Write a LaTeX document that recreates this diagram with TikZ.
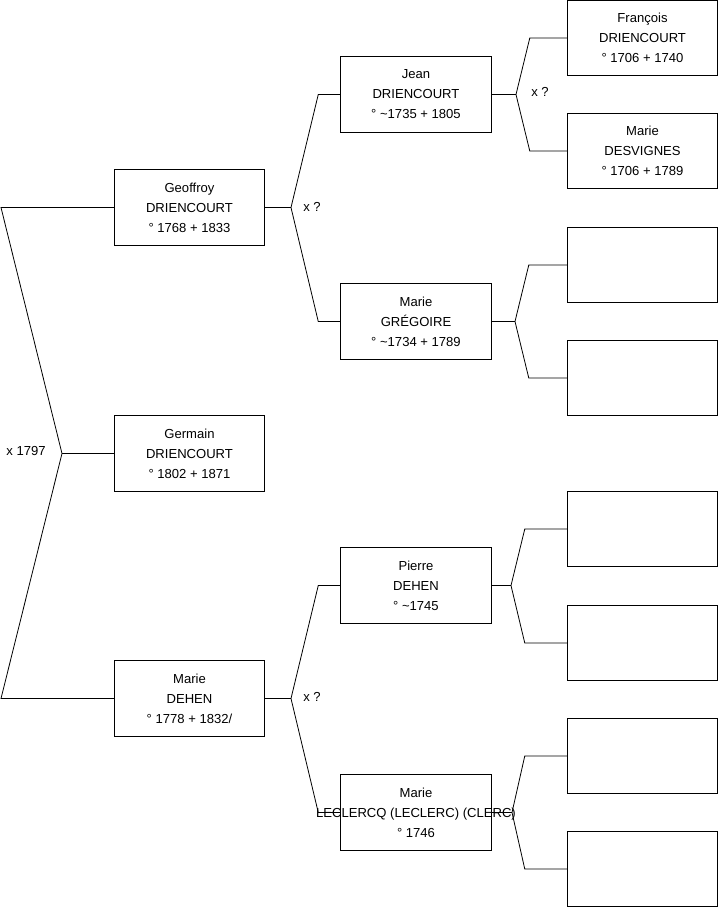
\documentclass[tikz,border=0pt]{standalone}
\usepackage{fontspec}
\setmainfont{Liberation Sans}
\usepackage{tikz}

\begin{document}
\begin{tikzpicture}[
    x=0.75pt, y=-0.75pt,
    font=\fontsize{9.8}{15}\selectfont,
    line width=0.6pt,
    individu/.style={
        draw,
        minimum width=113pt,
        minimum height=56.5pt,
        inner sep=0pt,
        align=center
    },
    union/.style={inner sep=1pt}
]
    \useasboundingbox (0,0) rectangle (719,908);

    \node[individu] (germain) at (189.5,453.5)
        {Germain\\DRIENCOURT\\° 1802 + 1871};
    \node[individu] (geoffroy) at (189.5,207.5)
        {Geoffroy\\DRIENCOURT\\° 1768 + 1833};
    \node[individu] (dehen) at (189.5,698.5)
        {Marie\\DEHEN\\° 1778 + 1832/};

    \node[individu] (jean) at (416,94.5)
        {Jean\\DRIENCOURT\\° \textasciitilde 1735 + 1805};
    \node[individu] (gregoire) at (416,321.5)
        {Marie\\GRÉGOIRE\\° \textasciitilde 1734 + 1789};
    \node[individu] (pierre) at (416,585.5)
        {Pierre\\DEHEN\\° \textasciitilde 1745};
    \node[individu] (leclercq) at (416,812.5)
        {Marie\\\makebox[0pt]{LECLERCQ (LECLERC) (CLERC)}\\° 1746};

    \node[individu] (francois) at (642.5,38)
        {François\\DRIENCOURT\\° 1706 + 1740};
    \node[individu] (desvignes) at (642.5,151)
        {Marie\\DESVIGNES\\° 1706 + 1789};
    \node[individu] (inconnu1) at (642.5,265) {};
    \node[individu] (inconnu2) at (642.5,378) {};
    \node[individu] (inconnu3) at (642.5,529) {};
    \node[individu] (inconnu4) at (642.5,643) {};
    \node[individu] (inconnu5) at (642.5,756) {};
    \node[individu] (inconnu6) at (642.5,869) {};

    \coordinate (bord) at (1,0);
    \coordinate (f0) at (62,453.5);
    \coordinate (f1) at (291,207.5);
    \coordinate (f2) at (291,698.5);
    \coordinate (f3) at (516,94.5);
    \coordinate (f4) at (515,321.5);
    \coordinate (f5) at (511,585.5);
    \coordinate (f6) at (512,812.5);

    \draw (germain.west) -- (f0);
    \draw (geoffroy.west) -- (geoffroy.west -| bord) -- (f0);
    \draw (dehen.west) -- (dehen.west -| bord) -- (f0);

    \draw (geoffroy.east) -- (f1);
    \draw (jean.west) -- ++(-22,0) -- (f1);
    \draw (gregoire.west) -- ++(-22,0) -- (f1);

    \draw (dehen.east) -- (f2);
    \draw (pierre.west) -- ++(-22,0) -- (f2);
    \draw (leclercq.west) -- ++(-22,0) -- (f2);

    \draw (jean.east) -- (f3);
    \draw (francois.west) -- ++(-37,0) -- (f3);
    \draw (desvignes.west) -- ++(-37,0) -- (f3);

    \draw (gregoire.east) -- (f4);
    \draw (inconnu1.west) -- ++(-38,0) -- (f4);
    \draw (inconnu2.west) -- ++(-38,0) -- (f4);

    \draw (pierre.east) -- (f5);
    \draw (inconnu3.west) -- ++(-42,0) -- (f5);
    \draw (inconnu4.west) -- ++(-42,0) -- (f5);

    \draw (leclercq.east) -- (f6);
    \draw (inconnu5.west) -- ++(-42,0) -- (f6);
    \draw (inconnu6.west) -- ++(-42,0) -- (f6);

    \node[union] (m0) at (26,451) {x 1797};
    \node[union] (m1) at (312,207) {x ?};
    \node[union] (m2) at (312,697) {x ?};
    \node[union] (m3) at (540,92) {x ?};
\end{tikzpicture}
\end{document}
